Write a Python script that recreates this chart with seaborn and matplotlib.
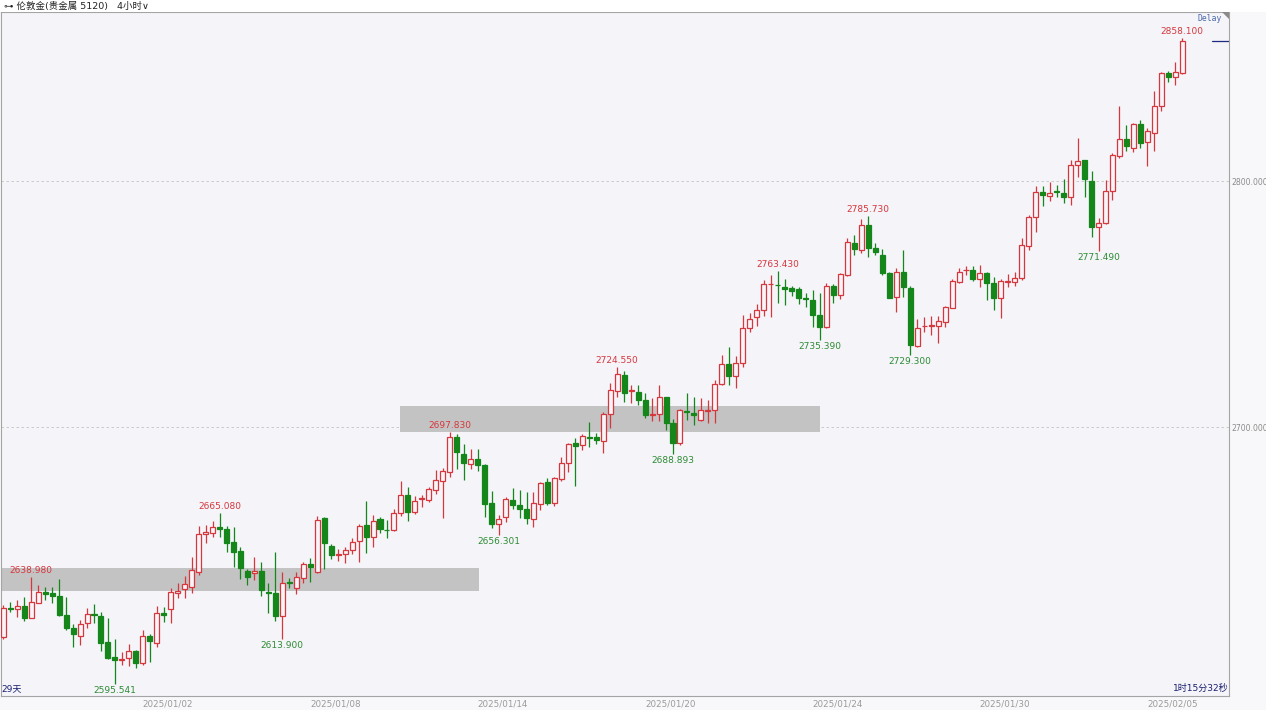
import matplotlib.pyplot as plt
from matplotlib.patches import Rectangle, Polygon
import seaborn as sns
import numpy as np
import pandas as pd

# 4-hour bars left to right
opens = [2614.8, 2626.4, 2625.9, 2627.4, 2622.6, 2628.7, 2633.1, 2632.4, 2631.3, 2623.6,
         2618.2, 2615.0, 2620.2, 2624.0, 2623.2, 2612.5, 2606.4, 2605.3, 2606.0, 2608.9,
         2604.3, 2615.0, 2612.3, 2624.3, 2626.0, 2632.4, 2634.0, 2635.1, 2641.2, 2656.5,
         2656.8, 2659.5, 2658.5, 2653.1, 2649.6, 2641.6, 2640.5, 2641.5, 2632.8, 2632.7,
         2623.3, 2637.0, 2634.4, 2638.5, 2644.2, 2641.2, 2662.9, 2651.8, 2648.2, 2648.6,
         2650.0, 2653.7, 2660.2, 2655.4, 2662.5, 2658.3, 2658.1, 2664.9, 2672.4, 2665.6,
         2670.7, 2670.3, 2674.4, 2678.2, 2681.8, 2696.1, 2689.0, 2685.0, 2686.9, 2684.6,
         2669.0, 2660.6, 2663.3, 2670.3, 2668.3, 2666.9, 2662.5, 2668.7, 2677.8, 2669.2,
         2678.9, 2685.5, 2693.4, 2692.7, 2695.9, 2696.1, 2694.4, 2705.3, 2714.8, 2721.1,
         2714.6, 2714.4, 2711.2, 2705.1, 2705.3, 2712.1, 2701.8, 2693.6, 2706.6, 2705.8,
         2702.8, 2706.5, 2706.9, 2717.5, 2725.6, 2720.7, 2725.9, 2740.1, 2744.9, 2747.6,
         2758.0, 2757.9, 2757.0, 2756.6, 2756.1, 2752.4, 2751.6, 2745.5, 2740.8, 2757.3,
         2753.7, 2761.8, 2774.7, 2772.0, 2782.1, 2772.6, 2769.9, 2762.7, 2753.0, 2762.9,
         2756.6, 2733.1, 2740.9, 2741.1, 2741.2, 2742.8, 2748.5, 2759.1, 2763.7, 2763.8,
         2760.0, 2762.5, 2758.4, 2752.3, 2758.9, 2759.1, 2760.4, 2773.6, 2785.5, 2795.4,
         2793.9, 2795.8, 2795.0, 2793.6, 2806.5, 2808.5, 2800.1, 2781.4, 2782.8, 2796.1,
         2810.2, 2816.9, 2813.3, 2823.2, 2815.7, 2819.6, 2830.5, 2843.8, 2842.1, 2844.0]
highs = [2627.6, 2629.0, 2629.7, 2631.0, 2638.98, 2635.8, 2635.1, 2635.1, 2638.1, 2631.0,
         2619.9, 2621.5, 2626.3, 2627.9, 2624.9, 2622.2, 2613.7, 2608.7, 2611.7, 2609.4,
         2617.5, 2616.1, 2627.2, 2627.0, 2634.7, 2636.5, 2639.4, 2647.3, 2659.9, 2660.2,
         2661.9, 2665.08, 2659.8, 2659.2, 2651.4, 2642.5, 2647.3, 2645.3, 2636.7, 2649.3,
         2641.2, 2638.5, 2641.2, 2645.3, 2646.6, 2663.8, 2663.5, 2652.4, 2650.3, 2651.4,
         2655.0, 2660.8, 2670.1, 2664.2, 2663.3, 2662.2, 2666.9, 2678.2, 2675.5, 2672.0,
         2672.4, 2675.7, 2682.5, 2683.2, 2697.83, 2697.2, 2693.1, 2690.9, 2690.9, 2685.0,
         2674.0, 2664.2, 2671.7, 2675.1, 2674.4, 2673.7, 2673.7, 2677.8, 2679.4, 2679.8,
         2687.7, 2693.4, 2695.4, 2697.0, 2702.2, 2697.4, 2706.2, 2718.0, 2724.55, 2722.9,
         2717.1, 2717.1, 2714.0, 2711.7, 2717.1, 2712.3, 2703.1, 2707.2, 2713.7, 2712.3,
         2711.7, 2711.0, 2719.1, 2729.3, 2732.7, 2729.0, 2745.5, 2746.2, 2750.0, 2759.8,
         2761.8, 2763.43, 2760.0, 2757.3, 2756.8, 2754.3, 2755.7, 2754.3, 2758.7, 2758.1,
         2762.5, 2776.7, 2778.0, 2784.4, 2785.73, 2774.9, 2772.4, 2763.1, 2764.5, 2772.0,
         2757.3, 2743.8, 2744.9, 2745.1, 2745.1, 2749.2, 2760.0, 2764.5, 2765.4, 2765.4,
         2765.9, 2763.1, 2760.8, 2760.0, 2762.2, 2763.1, 2776.7, 2786.2, 2798.1, 2798.1,
         2799.5, 2798.4, 2800.7, 2808.5, 2817.3, 2808.5, 2804.2, 2784.8, 2800.4, 2811.2,
         2830.5, 2822.8, 2823.7, 2824.8, 2821.4, 2836.7, 2844.4, 2844.8, 2848.5, 2858.1]
lows = [2613.7, 2624.9, 2622.9, 2621.3, 2622.2, 2628.6, 2629.7, 2628.3, 2623.2, 2617.5,
        2610.7, 2611.4, 2618.4, 2620.2, 2609.1, 2605.6, 2595.541, 2603.3, 2602.8, 2601.9,
        2603.3, 2604.6, 2610.7, 2620.9, 2620.5, 2630.4, 2630.4, 2632.7, 2639.8, 2653.0,
        2655.4, 2655.4, 2649.3, 2643.2, 2638.2, 2635.8, 2637.8, 2631.4, 2624.5, 2621.3,
        2613.9, 2634.4, 2632.1, 2636.5, 2637.1, 2640.5, 2642.5, 2646.2, 2645.7, 2644.6,
        2648.4, 2645.3, 2648.9, 2651.1, 2657.0, 2655.0, 2657.7, 2663.8, 2661.9, 2664.6,
        2667.6, 2669.6, 2672.8, 2662.9, 2679.8, 2682.8, 2678.5, 2682.8, 2682.2, 2663.6,
        2658.8, 2656.301, 2661.5, 2666.9, 2662.9, 2660.8, 2659.2, 2666.3, 2668.3, 2667.9,
        2678.2, 2681.8, 2676.0, 2690.7, 2691.7, 2693.0, 2689.6, 2699.5, 2712.1, 2710.3,
        2709.6, 2708.9, 2703.5, 2702.6, 2702.6, 2698.8, 2688.893, 2692.7, 2702.8, 2700.8,
        2702.6, 2701.8, 2701.8, 2717.1, 2717.1, 2715.7, 2724.5, 2738.8, 2741.1, 2745.1,
        2744.9, 2750.3, 2749.6, 2753.3, 2750.0, 2748.9, 2740.8, 2735.39, 2740.1, 2750.5,
        2751.9, 2761.4, 2769.9, 2770.9, 2769.2, 2769.9, 2761.8, 2752.3, 2746.6, 2753.0,
        2729.3, 2732.7, 2738.8, 2737.4, 2734.0, 2740.8, 2748.2, 2758.4, 2761.8, 2759.5,
        2757.0, 2751.6, 2747.6, 2744.2, 2756.8, 2757.3, 2759.8, 2772.0, 2779.4, 2790.0,
        2791.9, 2793.6, 2790.9, 2790.2, 2801.8, 2793.6, 2777.4, 2771.49, 2782.5, 2792.3,
        2809.2, 2812.2, 2811.9, 2813.3, 2806.1, 2812.2, 2828.6, 2840.4, 2839.0, 2843.5]
closes = [2626.3, 2626.0, 2627.2, 2622.6, 2629.0, 2633.1, 2632.0, 2631.3, 2623.6, 2618.2,
          2615.7, 2619.8, 2624.0, 2623.6, 2612.3, 2606.2, 2605.3, 2605.7, 2609.1, 2604.3,
          2615.0, 2613.1, 2624.3, 2623.7, 2632.8, 2633.5, 2636.2, 2641.9, 2656.4, 2657.5,
          2659.5, 2658.7, 2653.0, 2649.3, 2642.8, 2638.9, 2641.6, 2633.7, 2632.4, 2623.3,
          2636.5, 2636.5, 2638.9, 2644.2, 2643.2, 2662.2, 2652.7, 2648.2, 2648.5, 2650.0,
          2653.4, 2659.9, 2655.4, 2661.9, 2658.4, 2658.0, 2664.9, 2672.4, 2665.6, 2670.1,
          2671.1, 2674.7, 2678.5, 2682.1, 2696.1, 2689.7, 2685.2, 2686.9, 2684.6, 2668.7,
          2660.6, 2662.6, 2670.6, 2668.3, 2666.9, 2662.9, 2669.0, 2677.1, 2669.2, 2679.1,
          2685.6, 2693.0, 2692.4, 2696.5, 2695.7, 2694.7, 2705.3, 2715.0, 2721.5, 2713.7,
          2714.9, 2711.2, 2705.1, 2705.4, 2712.3, 2701.5, 2693.6, 2706.9, 2706.2, 2705.1,
          2706.9, 2706.8, 2717.5, 2725.6, 2720.7, 2726.2, 2740.1, 2743.8, 2747.6, 2758.1,
          2758.3, 2757.6, 2756.0, 2755.3, 2752.3, 2752.2, 2745.5, 2740.8, 2757.3, 2753.7,
          2762.1, 2775.1, 2772.4, 2782.1, 2772.6, 2771.0, 2762.5, 2752.6, 2762.9, 2756.8,
          2733.3, 2740.4, 2741.2, 2741.3, 2743.2, 2748.6, 2759.3, 2763.1, 2764.0, 2760.0,
          2762.5, 2758.4, 2752.3, 2759.3, 2759.2, 2760.4, 2774.0, 2785.5, 2795.4, 2794.3,
          2795.3, 2795.5, 2793.6, 2806.5, 2808.3, 2800.7, 2781.4, 2782.8, 2796.1, 2810.6,
          2816.9, 2814.2, 2823.2, 2815.6, 2820.3, 2830.6, 2844.0, 2842.4, 2844.4, 2856.9]

date_labels = ['2025/01/02', '2025/01/08', '2025/01/14', '2025/01/20',
               '2025/01/24', '2025/01/30', '2025/02/05']
price_ticks = [2700, 2800]

# swing highs / lows that carry a price label (bar number, counted from 1)
peak_bars = [5, 32, 65, 89, 112, 125, 170]
trough_bars = [17, 41, 72, 97, 118, 131, 158]

# grey boxes drawn on the chart: bar span and price span
zone_bars = [(-0.5, 68.2), (56.9, 117.1)]
zone_prices = [(2633.3, 2642.7), (2698.0, 2708.5)]

title = '\u22b6 伦敦金(贵金属 5120)   4小时\u2228'

RED = '#d6373d'
GREEN = '#14861a'
BG = '#f4f4f9'

sns.set_theme(style='white')
plt.rcParams['font.family'] = ['DejaVu Sans', 'Noto Sans CJK SC']

df = pd.DataFrame({'open': opens, 'high': highs, 'low': lows, 'close': closes})
df['bar'] = np.arange(len(df))
df['up'] = df['close'] >= df['open']

fig = plt.figure(figsize=(12.66, 7.10), dpi=100, facecolor='#f8f8fa')
ax = fig.add_axes([1 / 1266, 14 / 710, 1228 / 1266, 684 / 710])
ax.set_facecolor(BG)

# title strip
fig.patches.append(Rectangle((0, 698 / 710), 1, 12 / 710, transform=fig.transFigure,
                             facecolor='white', edgecolor='none', zorder=0))
fig.text(4 / 1266, 704 / 710, title, fontsize=6.8, color='#222222', va='center',
         ha='left', family=['DejaVu Sans', 'Noto Sans CJK SC'])

for (b0, b1), (p0, p1) in zip(zone_bars, zone_prices):
    ax.add_patch(Rectangle((b0, p0), b1 - b0, p1 - p0, facecolor='#c3c3c3',
                           edgecolor='none', zorder=1.5))

wick_col = np.where(df['up'], RED, GREEN)
ax.vlines(df['bar'], df['low'], df['high'], colors=wick_col, lw=0.9, zorder=2)

body_lo = np.minimum(df['open'], df['close'])
body_h = (df['close'] - df['open']).abs()
ax.bar(df['bar'], body_h, bottom=body_lo, width=0.72,
       color=np.where(df['up'], BG, GREEN), edgecolor=np.where(df['up'], RED, GREEN),
       lw=0.9, zorder=3)

for b in peak_bars:
    i = b - 1
    ax.annotate(f"{df['high'][i]:.3f}", (i, df['high'][i]), xytext=(0, 1.5),
                textcoords='offset points', ha='center', va='bottom',
                fontsize=6.5, color=RED, zorder=4)
for b in trough_bars:
    i = b - 1
    ax.annotate(f"{df['low'][i]:.3f}", (i, df['low'][i]), xytext=(0, -1.5),
                textcoords='offset points', ha='center', va='top',
                fontsize=6.5, color='#2e8b34', zorder=4)

# last price marker on the right edge
ax.axhline(df['close'].iloc[-1], xmin=0.9865, xmax=1, color='#1f2a80', lw=0.9)

ax.set_xlim(-0.33, 175.7)
ax.set_ylim(2590.7, 2868.7)

ax.set_xticks(23.6 + 24 * np.arange(len(date_labels)))
ax.set_xticklabels(date_labels)
ax.yaxis.tick_right()
ax.set_yticks(price_ticks)
ax.set_yticklabels([f'{v:.3f}' for v in price_ticks])
ax.tick_params(axis='x', length=0, pad=2.5, labelsize=6.3, labelcolor='#9a9a9a')
ax.tick_params(axis='y', length=0, pad=1.5, labelsize=5.6, labelcolor='#8c8c8c')

ax.grid(axis='y', linestyle=(0, (3, 3)), color='#c4c4c4', lw=0.6)
ax.grid(axis='x', visible=False)
ax.set_axisbelow(True)
for s in ax.spines.values():
    s.set_color('#a4a4a4')
    s.set_linewidth(0.8)

ax.text(0.9945, 0.997, 'Delay', transform=ax.transAxes, ha='right', va='top',
        fontsize=5.8, color='#4a68a8', family='DejaVu Sans Mono')
ax.add_patch(Polygon([(0.9943, 1), (1, 1), (1, 0.9898)], closed=True, transform=ax.transAxes,
                     facecolor='#8a8a8a', edgecolor='none', clip_on=False, zorder=5))
ax.text(0.0, 0.004, '29天', transform=ax.transAxes, ha='left', va='bottom',
        fontsize=6.5, color='#1c2070', family=['DejaVu Sans', 'Noto Sans CJK SC'])
ax.text(0.9995, 0.004, '1时15分32秒', transform=ax.transAxes, ha='right', va='bottom',
        fontsize=6.5, color='#1c2070', family=['DejaVu Sans', 'Noto Sans CJK SC'])

fig.savefig('out.png', dpi=100, facecolor=fig.get_facecolor())
